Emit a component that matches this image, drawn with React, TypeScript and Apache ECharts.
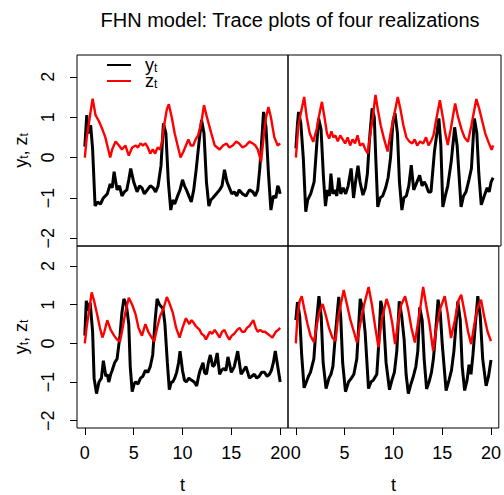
import { useEffect, useRef } from "react";
import * as echarts from "echarts";

const FONT = "'Liberation Sans', Arial, Helvetica, sans-serif";
const titleText = "FHN model: Trace plots of four realizations";
const tickT = [0, 5, 10, 15, 20];
const tickV = [-2, -1, 0, 1, 2];

// Panel 1 (top-left)
const p1Y: [number, number][] = [[0,0.27],[0.2,1.05],[0.35,0.6],[0.6,0.8],[0.8,0.2],[1.05,-1.2],[1.3,-1.1],[1.6,-1.15],[1.9,-1.0],[2.3,-0.9],[2.6,-0.65],[2.8,-0.75],[3.0,-0.35],[3.3,-0.8],[3.55,-0.7],[3.8,-0.95],[4.05,-0.85],[4.3,-0.8],[4.5,-0.55],[4.7,-0.27],[5.0,-0.6],[5.35,-0.85],[5.6,-0.7],[5.85,-0.75],[6.1,-0.9],[6.4,-0.8],[6.7,-0.7],[7.0,-0.75],[7.25,-0.85],[7.5,-0.7],[7.8,-0.2],[8.05,0.85],[8.3,0.6],[8.55,-0.6],[8.8,-1.3],[9.0,-1.05],[9.2,-1.15],[9.5,-0.95],[9.75,-0.8],[10.0,-0.55],[10.2,-0.7],[10.4,-0.8],[10.65,-0.95],[10.9,-1.1],[11.15,-0.8],[11.4,-0.3],[11.7,0.4],[11.95,0.93],[12.2,0.6],[12.45,-0.6],[12.7,-1.2],[12.9,-1.05],[13.1,-1.0],[13.45,-0.9],[13.8,-0.8],[14.05,-0.7],[14.3,-0.3],[14.55,-0.6],[14.8,-0.75],[15.05,-0.9],[15.3,-0.85],[15.55,-0.95],[15.8,-0.8],[16.15,-0.9],[16.5,-0.95],[16.85,-0.8],[17.2,-0.85],[17.45,-0.95],[17.7,-0.8],[17.9,-0.3],[18.05,0.2],[18.3,1.13],[18.55,0.75],[18.8,-0.4],[19.05,-1.3],[19.3,-0.95],[19.55,-1.0],[19.75,-0.7],[19.85,-0.75],[20.0,-0.9]];
const p1Z: [number, number][] = [[0,0.0],[0.2,0.5],[0.45,0.9],[0.6,1.15],[0.8,1.46],[1.1,1.05],[1.45,0.9],[1.8,0.7],[2.1,0.5],[2.35,0.25],[2.6,0.0],[2.8,0.2],[3.15,0.4],[3.5,0.3],[3.8,0.2],[4.15,0.3],[4.5,0.05],[4.85,0.25],[5.2,0.3],[5.45,0.25],[5.7,0.35],[5.95,0.3],[6.2,0.35],[6.45,0.25],[6.7,0.1],[6.95,0.2],[7.2,0.1],[7.45,0.25],[7.7,0.2],[7.9,0.4],[8.05,0.7],[8.4,1.2],[8.6,1.32],[8.9,1.0],[9.2,0.6],[9.6,0.2],[9.8,0.0],[10.1,0.15],[10.35,0.3],[10.6,0.45],[10.85,0.3],[11.1,0.3],[11.35,0.45],[11.6,0.55],[11.95,0.9],[12.2,1.3],[12.5,1.0],[12.95,0.6],[13.3,0.3],[13.55,0.25],[13.8,0.2],[14.15,0.3],[14.5,0.35],[14.8,0.25],[15.15,0.3],[15.5,0.4],[15.8,0.35],[16.15,0.25],[16.5,0.3],[16.85,0.4],[17.2,0.35],[17.45,0.3],[17.7,0.2],[18.05,-0.1],[18.3,0.5],[18.55,1.0],[18.8,1.25],[19.05,1.0],[19.4,0.5],[19.75,0.3],[20.0,0.35]];

// Panel 2 (top-right)
const p2Y: [number, number][] = [[0,0.23],[0.15,0.8],[0.27,1.13],[0.5,0.85],[0.75,0.0],[1.0,-1.34],[1.2,-1.05],[1.5,-0.9],[1.85,-0.6],[2.05,0.1],[2.3,0.97],[2.55,0.7],[2.8,-0.5],[3.0,-1.2],[3.2,-0.8],[3.4,-0.95],[3.55,-0.4],[3.75,-0.9],[3.95,-0.8],[4.15,-0.95],[4.35,-0.5],[4.55,-0.9],[4.8,-0.75],[5.05,-0.9],[5.3,-0.7],[5.6,-0.27],[5.85,-1.0],[6.05,-0.6],[6.3,-0.2],[6.5,-0.6],[6.8,-0.93],[7.05,-0.75],[7.25,-0.4],[7.45,0.4],[7.73,1.22],[7.95,1.0],[8.1,0.0],[8.3,-1.22],[8.55,-1.0],[8.8,-0.95],[9.1,-0.75],[9.35,-0.5],[9.6,0.0],[9.85,0.9],[10.05,1.1],[10.3,0.6],[10.5,-0.6],[10.75,-1.3],[10.95,-1.0],[11.2,-0.95],[11.45,-0.7],[11.7,-0.19],[11.95,-0.8],[12.2,-0.65],[12.55,-0.44],[12.8,-0.7],[13.0,-0.6],[13.2,-0.68],[13.45,-0.85],[13.7,-0.85],[14.05,0.15],[14.5,0.97],[14.7,0.3],[14.9,-1.22],[15.15,-0.95],[15.4,-0.7],[15.75,-0.1],[16.1,0.75],[16.35,0.3],[16.75,-1.22],[17.0,-0.95],[17.25,-0.85],[17.55,-0.55],[17.8,-0.27],[18.1,0.97],[18.35,0.6],[18.55,-0.4],[18.8,-1.17],[19.1,-0.95],[19.4,-0.75],[19.6,-0.85],[19.8,-0.6],[20.0,-0.5]];
const p2Z: [number, number][] = [[0,0.0],[0.25,0.8],[0.5,1.1],[0.84,1.5],[1.1,1.0],[1.4,0.6],[1.76,0.39],[2.1,0.7],[2.4,1.1],[2.64,1.38],[2.9,1.0],[3.15,0.6],[3.37,0.47],[3.6,0.65],[3.8,0.5],[4.0,0.55],[4.25,0.4],[4.5,0.55],[4.75,0.45],[5.0,0.35],[5.25,0.5],[5.5,0.3],[5.75,0.45],[6.0,0.35],[6.25,0.55],[6.5,0.3],[6.8,0.35],[7.05,0.2],[7.28,0.1],[7.5,0.5],[7.8,1.0],[8.07,1.55],[8.3,1.2],[8.6,0.8],[8.9,0.5],[9.3,0.15],[9.6,0.6],[10.0,1.1],[10.33,1.5],[10.6,1.2],[10.9,0.8],[11.2,0.5],[11.5,0.4],[11.8,0.35],[12.05,0.45],[12.3,0.3],[12.6,0.4],[12.9,0.35],[13.2,0.5],[13.45,0.3],[13.7,0.4],[13.95,0.55],[14.2,0.9],[14.6,1.42],[14.9,1.0],[15.15,0.6],[15.4,0.31],[15.7,0.7],[16.15,1.34],[16.45,1.0],[16.8,0.7],[17.1,0.5],[17.45,0.39],[17.8,0.8],[18.3,1.45],[18.6,1.2],[18.9,0.9],[19.2,0.6],[19.5,0.4],[19.85,0.19],[20.0,0.3]];

// Panel 3 (bottom-left)
const p3Y: [number, number][] = [[0,0.2],[0.15,1.1],[0.35,0.85],[0.55,1.05],[0.8,0.3],[0.95,-0.9],[1.2,-1.3],[1.45,-1.0],[1.7,-0.9],[1.9,-0.45],[2.15,-0.85],[2.3,-0.8],[2.45,-1.0],[2.65,-0.8],[2.8,-0.7],[3.05,-0.5],[3.3,-0.4],[3.6,0.2],[3.8,0.8],[4.0,1.15],[4.25,1.0],[4.5,0.5],[4.65,-0.6],[4.85,-1.25],[5.05,-1.05],[5.2,-1.0],[5.45,-1.05],[5.7,-0.9],[5.95,-0.85],[6.2,-0.7],[6.45,-0.75],[6.7,-0.6],[6.95,-0.3],[7.2,0.6],[7.4,1.15],[7.65,1.0],[8.0,0.9],[8.2,0.5],[8.45,-0.5],[8.65,-1.2],[8.85,-1.0],[9.0,-1.0],[9.2,-0.9],[9.4,-0.75],[9.6,-0.5],[9.75,-0.2],[10.0,-0.7],[10.2,-0.95],[10.4,-1.0],[10.65,-0.9],[10.9,-0.95],[11.2,-1.0],[11.45,-1.1],[11.65,-0.85],[11.8,-0.7],[12.1,-0.5],[12.25,-0.75],[12.45,-0.8],[12.65,-0.5],[12.85,-0.3],[13.1,-0.6],[13.3,-0.55],[13.55,-0.25],[13.8,-0.8],[14.0,-0.7],[14.2,-0.65],[14.45,-0.7],[14.65,-0.35],[15.0,-0.75],[15.3,-0.6],[15.65,-0.2],[16.0,-0.8],[16.25,-0.7],[16.5,-0.6],[16.85,-0.9],[17.1,-0.85],[17.35,-0.8],[17.6,-0.9],[17.85,-0.85],[18.1,-0.75],[18.4,-0.75],[18.65,-0.85],[18.9,-0.8],[19.1,-0.7],[19.3,-0.5],[19.5,-0.2],[19.75,-0.6],[20.0,-1.0]];
const p3Z: [number, number][] = [[0,0.0],[0.2,0.45],[0.45,0.85],[0.7,1.32],[0.95,1.1],[1.3,0.7],[1.55,0.4],[1.8,0.15],[2.0,0.3],[2.3,0.6],[2.65,0.35],[3.0,0.2],[3.3,0.1],[3.6,0.05],[3.8,0.3],[4.15,0.8],[4.5,1.18],[4.85,1.0],[5.2,0.75],[5.5,0.4],[5.85,0.2],[6.2,0.5],[6.5,0.3],[6.85,0.15],[7.1,0.05],[7.4,0.4],[7.7,0.7],[8.05,0.9],[8.4,1.2],[8.65,1.05],[9.0,0.8],[9.35,0.4],[9.7,0.15],[10.0,0.4],[10.35,0.65],[10.7,0.5],[10.9,0.6],[11.1,0.55],[11.35,0.45],[11.55,0.4],[11.75,0.35],[11.95,0.25],[12.2,0.2],[12.4,0.1],[12.6,0.2],[12.8,0.3],[13.05,0.25],[13.3,0.35],[13.55,0.25],[13.8,0.15],[14.05,0.3],[14.3,0.35],[14.55,0.2],[14.8,0.1],[15.05,0.2],[15.3,0.25],[15.6,0.35],[15.85,0.4],[16.1,0.3],[16.35,0.3],[16.6,0.4],[16.85,0.45],[17.25,0.6],[17.5,0.4],[17.7,0.3],[17.95,0.35],[18.2,0.3],[18.45,0.3],[18.7,0.25],[18.95,0.2],[19.2,0.15],[19.55,0.3],[19.8,0.35],[20.0,0.4]];

// Panel 4 (bottom-right)
const p4Y: [number, number][] = [[0,0.6],[0.17,1.07],[0.4,0.7],[0.6,-0.3],[0.85,-1.15],[1.08,-1.0],[1.3,-0.85],[1.5,-0.75],[1.85,-0.4],[2.1,0.5],[2.37,1.22],[2.6,0.7],[2.8,-0.5],[3.1,-1.17],[3.4,-0.9],[3.6,-0.8],[3.8,-0.6],[4.05,0.2],[4.4,1.2],[4.6,0.7],[4.8,-0.5],[5.09,-1.25],[5.4,-1.0],[5.7,-0.9],[5.95,-0.8],[6.25,-0.4],[6.6,1.15],[6.85,0.9],[7.1,0.3],[7.45,-1.17],[7.7,-1.0],[7.95,-0.95],[8.3,-0.8],[8.5,0.0],[8.7,1.1],[8.95,0.8],[9.25,-0.5],[9.6,-1.2],[9.85,-0.95],[10.1,-0.75],[10.35,-0.2],[10.6,1.09],[10.85,0.7],[11.1,0.1],[11.3,-0.8],[11.53,-1.3],[11.8,-1.05],[12.05,-0.85],[12.3,-0.6],[12.5,-0.2],[12.7,0.93],[12.95,0.6],[13.15,-0.4],[13.4,-1.18],[13.65,-1.0],[13.9,-0.75],[14.1,-0.4],[14.3,0.2],[14.58,1.13],[14.8,0.8],[15.0,0.0],[15.4,-1.22],[15.7,-0.95],[15.95,-0.7],[16.2,-0.2],[16.6,1.09],[16.85,0.6],[17.05,-0.6],[17.3,-1.22],[17.55,-0.95],[17.75,-0.55],[17.95,-0.8],[18.15,-0.3],[18.4,0.5],[18.65,1.22],[18.9,0.7],[19.15,-0.4],[19.5,-1.1],[19.75,-0.85],[20.0,-0.43]];
const p4Z: [number, number][] = [[0,0.0],[0.17,0.7],[0.4,1.1],[0.61,1.22],[0.9,0.85],[1.2,0.5],[1.5,0.2],[1.86,0.03],[2.1,0.4],[2.4,0.8],[2.75,1.02],[3.05,0.75],[3.4,0.4],[3.75,0.15],[4.07,0.06],[4.3,0.6],[4.6,1.0],[4.91,1.38],[5.25,1.0],[5.6,0.6],[5.95,0.3],[6.27,0.02],[6.6,0.5],[7.0,1.0],[7.46,1.46],[7.8,1.0],[8.15,0.4],[8.47,-0.1],[8.8,0.6],[9.3,1.15],[9.6,0.9],[9.9,0.5],[10.17,-0.02],[10.5,0.6],[10.8,1.0],[11.2,1.22],[11.5,0.9],[11.85,0.4],[12.2,0.02],[12.5,0.5],[12.8,1.0],[13.05,1.46],[13.35,1.0],[13.7,0.5],[14.07,-0.19],[14.4,0.4],[14.8,0.9],[15.26,1.22],[15.55,0.8],[15.9,0.14],[16.3,0.6],[16.65,1.1],[16.95,1.26],[17.3,0.8],[17.65,0.3],[17.97,-0.02],[18.3,0.5],[18.6,0.9],[18.98,1.13],[19.3,0.7],[19.65,0.3],[20.0,0.06]];

const panelsY = [p1Y, p2Y, p3Y, p4Y];
const panelsZ = [p1Z, p2Z, p3Z, p4Z];
const legendNames = ["yt", "zt"];

const gridBoxes = [
  { left: 77, top: 55, width: 211, height: 191 },
  { left: 288, top: 55, width: 213, height: 191 },
  { left: 77, top: 246, width: 211, height: 190 },
  { left: 288, top: 246, width: 213, height: 190 },
];
const yRanges = [
  [-2.19, 2.54],
  [-2.19, 2.54],
  [-2.19, 2.52],
  [-2.19, 2.52],
];

const richSub = {
  n: { fontSize: 18, lineHeight: 22, verticalAlign: "bottom" as const, fontFamily: FONT, color: "#000" },
  s: { fontSize: 12, lineHeight: 6, verticalAlign: "bottom" as const, fontFamily: FONT, color: "#000" },
};
const richLegend = {
  g: { width: 9 },
  n: { fontSize: 18, lineHeight: 16, verticalAlign: "bottom" as const, fontFamily: FONT, color: "#000" },
  s: { fontSize: 12, lineHeight: 2, verticalAlign: "bottom" as const, fontFamily: FONT, color: "#000" },
};

const minus = (v: number) => (v < 0 ? "\u2212" + Math.abs(v) : String(v));

export default function App() {
  const ref = useRef<HTMLDivElement>(null);
  useEffect(() => {
    if (!ref.current) return;
    const chart = echarts.init(ref.current, null, { renderer: "svg" });
    const bottom = [false, false, true, true];
    const leftSide = [true, false, true, false];
    const option: any = {
      animation: false,
      backgroundColor: "#fff",
      title: {
        text: titleText,
        left: 285,
        textAlign: "center",
        top: 5,
        textStyle: { fontFamily: FONT, fontSize: 20, fontWeight: "normal", color: "#000" },
      },
      legend: legendNames.map((nm, k) => ({
        data: [nm],
        orient: "vertical",
        left: 107,
        top: 56 + k * 16,
        padding: 0,
        itemGap: 0,
        itemWidth: 24,
        itemHeight: 2,
        icon: "rect",
        formatter: (name: string) => "{g| }{n|" + name[0] + "}{s|t}",
        textStyle: { fontFamily: FONT, fontSize: 18, color: "#000", rich: richLegend },
        selectedMode: false,
      })),
      grid: gridBoxes.map((g) => ({ ...g, show: true, borderColor: "#000", borderWidth: 1, backgroundColor: "transparent" })),
      xAxis: gridBoxes.map((_, i) => ({
        type: "value",
        gridIndex: i,
        min: -0.8,
        max: 20.8,
        position: "bottom",
        axisLine: { show: false, onZero: false },
        axisTick: { show: bottom[i], customValues: tickT, length: 7, lineStyle: { color: "#000" } },
        axisLabel: { show: bottom[i], customValues: tickT, margin: 16, fontSize: 18, fontFamily: FONT, color: "#000" },
        splitLine: { show: false },
        name: bottom[i] ? "t" : "",
        nameLocation: "middle",
        nameGap: 48,
        nameMoveOverlap: false,
        nameTextStyle: { fontFamily: FONT, fontSize: 18, color: "#000" },
      })),
      yAxis: gridBoxes.map((_, i) => ({
        type: "value",
        gridIndex: i,
        min: yRanges[i][0],
        max: yRanges[i][1],
        position: "left",
        axisLine: { show: false, onZero: false },
        axisTick: { show: leftSide[i], customValues: tickV, length: 7, lineStyle: { color: "#000" } },
        axisLabel: {
          show: leftSide[i],
          customValues: tickV,
          rotate: 90,
          align: "center",
          verticalAlign: "middle",
          margin: 29,
          fontSize: 18,
          fontFamily: FONT,
          color: "#000",
          formatter: (v: number) => minus(v),
        },
        splitLine: { show: false },
        name: leftSide[i] ? "{n|y}{s|t}{n|, z}{s|t}" : "",
        nameLocation: "middle",
        nameGap: 47,
        nameMoveOverlap: false,
        nameTextStyle: { fontFamily: FONT, fontSize: 18, color: "#000", rich: richSub },
      })),
      series: [
        ...panelsY.map((d, i) => ({
          type: "line",
          name: "yt",
          xAxisIndex: i,
          yAxisIndex: i,
          data: d,
          showSymbol: false,
          symbol: "none",
          color: "#000",
          lineStyle: { color: "#000", width: 3 },
          z: 2,
        })),
        ...panelsZ.map((d, i) => ({
          type: "line",
          name: "zt",
          xAxisIndex: i,
          yAxisIndex: i,
          data: d,
          showSymbol: false,
          symbol: "none",
          color: "#ff0000",
          lineStyle: { color: "#ff0000", width: 2.4 },
          z: 3,
        })),
      ],
    };
    chart.setOption(option);
    return () => chart.dispose();
  }, []);
  return <div ref={ref} style={{ position: "absolute", left: 0, top: 0, width: 504, height: 495 }} />;
}
